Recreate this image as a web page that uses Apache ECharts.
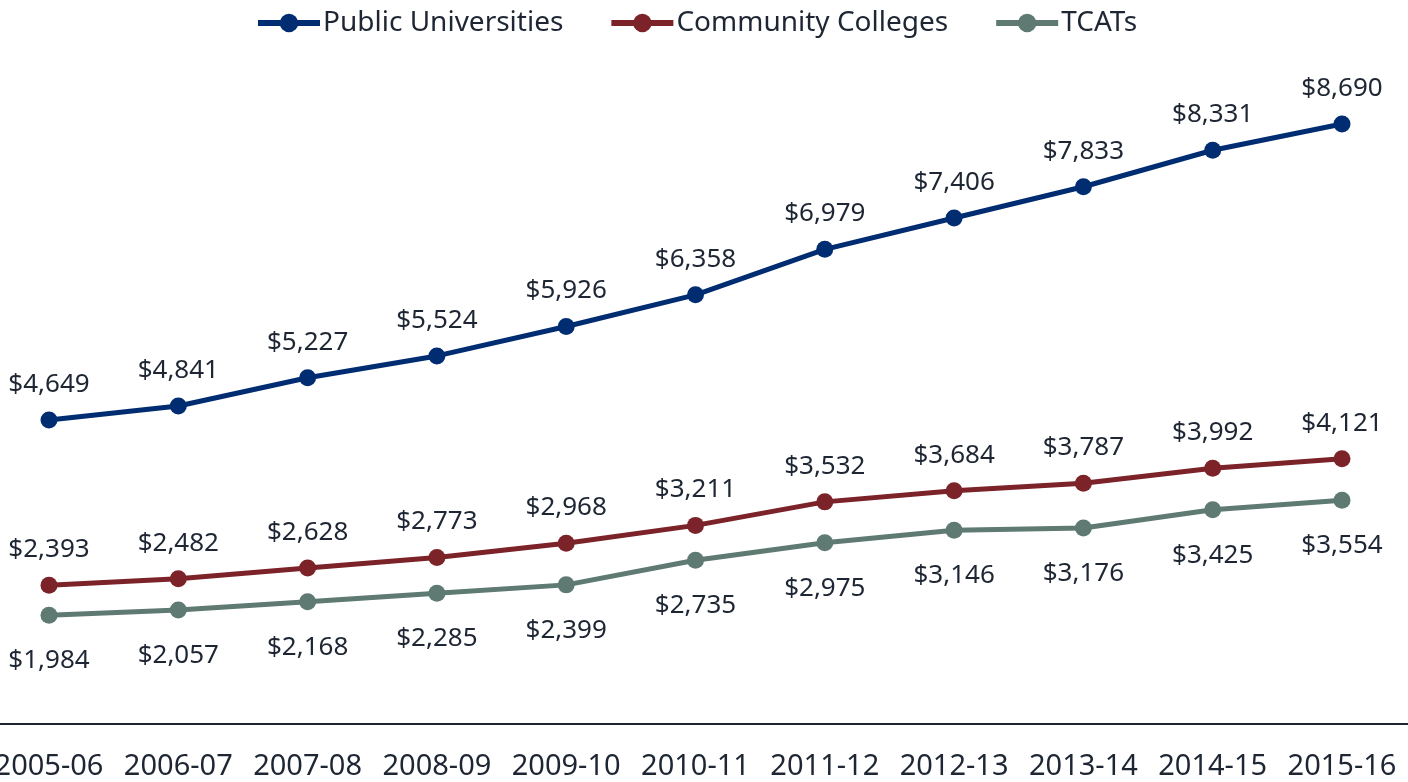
<!DOCTYPE html>
<html>
<head>
<meta charset="utf-8">
<script src="https://cdn.jsdelivr.net/npm/echarts@6/dist/echarts.min.js"></script>
<style>
html, body { margin: 0; padding: 0; background: #fff; }
#chart { width: 1408px; height: 782px; }
</style>
</head>
<body>
<div id="chart"></div>
<script>
// 学年
const years = ['2005-06', '2006-07', '2007-08', '2008-09', '2009-10', '2010-11',
  '2011-12', '2012-13', '2013-14', '2014-15', '2015-16']
const publicUniv = [4649, 4841, 5227, 5524, 5926, 6358, 6979, 7406, 7833, 8331, 8690]
const communityColleges = [2393, 2482, 2628, 2773, 2968, 3211, 3532, 3684, 3787, 3992, 4121]
const tcats = [1984, 2057, 2168, 2285, 2399, 2735, 2975, 3146, 3176, 3425, 3554]

const textColor = '#1e2633'
const font = 'Noto Sans'
const money = (p) => '$' + p.value.toLocaleString('en-US')

let Mycharts = echarts.init(document.getElementById('chart'))

function lineSeries(name, data, color, pos, dist) {
    return {
        name: name,
        type: 'line',
        data: data,
        symbol: 'circle',
        symbolSize: 17,
        showAllSymbol: true,
        lineStyle: { width: 5, color: color },
        itemStyle: { color: color },
        label: {
            show: true,
            position: pos,
            distance: dist,
            formatter: money,
            color: textColor,
            fontFamily: font,
            fontSize: 26
        },
        emphasis: { disabled: true }
    }
}

let option = {
    animation: false,
    legend: {
        top: 4,
        left: 250,
        itemWidth: 62,
        itemHeight: 23,
        itemGap: 45,
        lineStyle: { width: 6 },
        textStyle: {
            color: textColor,
            fontFamily: font,
            fontSize: 28,
            padding: [0, 0, 0, -2]
        },
        data: ['Public Universities', 'Community Colleges', 'TCATs']
    },
    // 第二个grid只用来画贯穿全宽的x轴线
    grid: [
        { top: 28, bottom: 58, left: 49, right: 66, outerBoundsMode: 'none' },
        { top: 28, bottom: 58, left: 0, right: 0, outerBoundsMode: 'none' }
    ],
    xAxis: [
        {
            type: 'category',
            data: years,
            boundaryGap: false,
            axisTick: { show: false },
            axisLine: { show: false },
            axisLabel: {
                color: textColor,
                fontFamily: font,
                fontSize: 29,
                margin: 28,
                interval: 0
            },
            splitLine: { show: false }
        },
        {
            type: 'category',
            gridIndex: 1,
            data: years,
            axisTick: { show: false },
            axisLabel: { show: false },
            axisLine: {
                show: true,
                lineStyle: { color: textColor, width: 2 }
            }
        }
    ],
    yAxis: [
        { type: 'value', min: 500, max: 10000, show: false },
        { type: 'value', gridIndex: 1, min: 500, max: 10000, show: false }
    ],
    series: [
        lineSeries('Public Universities', publicUniv, '#002d72', 'top', 14),
        lineSeries('Community Colleges', communityColleges, '#7b2328', 'top', 14),
        lineSeries('TCATs', tcats, '#5e7a72', 'bottom', 24)
    ]
}
Mycharts.setOption(option)
</script>
</body>
</html>
